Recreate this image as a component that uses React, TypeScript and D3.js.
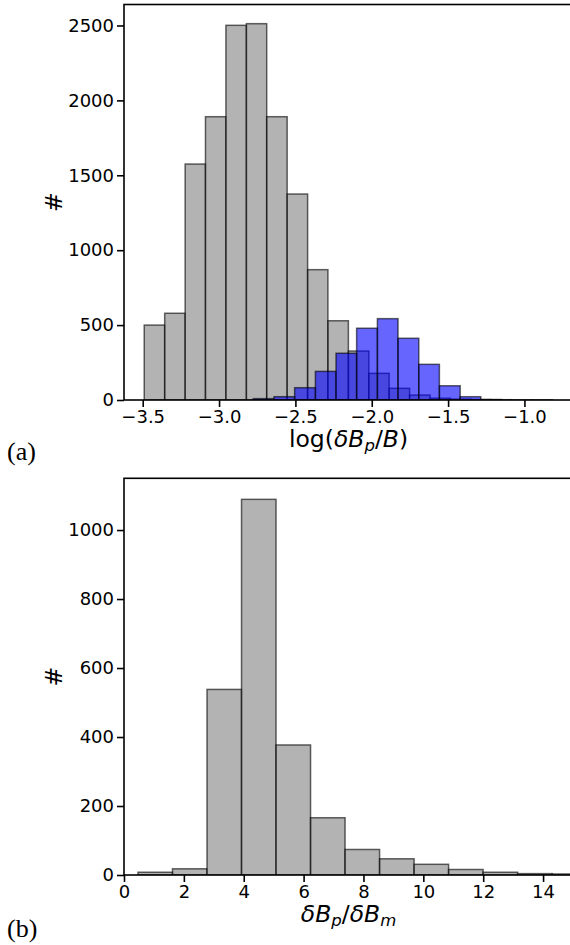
import React, { useEffect, useRef } from "react";
import * as d3 from "d3";

// panel (a): log(dBp/B), gray = all, blue = subset
const grayEdges = [-3.490, -3.356, -3.222, -3.089, -2.955, -2.821, -2.688, -2.554, -2.420, -2.287, -2.153,
  -2.019, -1.886, -1.752, -1.618, -1.485, -1.351, -1.217, -1.084, -0.950, -0.816];
const grayCounts = [500, 579, 1575, 1891, 2501, 2512, 1891, 1375, 870, 529, 327, 178, 78, 33, 12, 6, 3, 2, 1, 1];

const blueEdges = [-2.776, -2.640, -2.505, -2.369, -2.234, -2.099, -1.963, -1.828, -1.692, -1.557, -1.421, -1.286, -1.150];
const blueCounts = [9, 22, 82, 191, 312, 479, 543, 412, 238, 95, 22, 3];

const xTicksA = [-3.5, -3.0, -2.5, -2.0, -1.5, -1.0];
const yTicksA = [0, 500, 1000, 1500, 2000, 2500];

// panel (b): dBp/dBm
const ratioEdges = [0.467, 1.620, 2.773, 3.926, 5.079, 6.232, 7.385, 8.538, 9.691, 10.844, 11.997, 13.150, 14.303, 15.456];
const ratioCounts = [8, 18, 538, 1089, 377, 166, 74, 47, 31, 16, 8, 4, 3];

const xTicksB = [0, 2, 4, 6, 8, 10, 12, 14];
const yTicksB = [0, 200, 400, 600, 800, 1000];

const W = 570, H = 945;
const tickFont = "DejaVu Sans";

const toBins = (edges: number[], counts: number[]) =>
  counts.map((c, i) => ({ x0: edges[i], x1: edges[i + 1], n: c }));

const App = () => {
  const svgRef = useRef<SVGSVGElement>(null);

  useEffect(() => {
    const svg = d3.select(svgRef.current);
    svg.selectAll("*").remove();

    const drawPanel = (
      id: string,
      box: { left: number; right: number; top: number; bottom: number },
      xDomain: [number, number],
      yDomain: [number, number],
      series: { bins: { x0: number; x1: number; n: number }[]; color: string }[],
      xTicks: number[],
      yTicks: number[],
      xFmt: (d: number) => string,
      xLabel: (t: any) => void,
      panelTag: string,
      tagY: number
    ) => {
      const x = d3.scaleLinear().domain(xDomain).range([box.left, box.right]);
      const y = d3.scaleLinear().domain(yDomain).range([box.bottom, box.top]);

      svg.append("clipPath").attr("id", id)
        .append("rect")
        .attr("x", box.left).attr("y", box.top)
        .attr("width", box.right - box.left).attr("height", box.bottom - box.top);

      const g = svg.append("g").attr("clip-path", `url(#${id})`);
      series.forEach((s) => {
        g.append("g")
          .selectAll("rect")
          .data(s.bins)
          .join("rect")
          .attr("x", (d) => x(d.x0))
          .attr("y", (d) => y(d.n))
          .attr("width", (d) => x(d.x1) - x(d.x0))
          .attr("height", (d) => y(0) - y(d.n))
          .attr("fill", s.color)
          .attr("fill-opacity", 0.6)
          .attr("stroke", "black")
          .attr("stroke-opacity", 0.6)
          .attr("stroke-width", 1.5);
      });

      // frame
      svg.append("rect")
        .attr("x", box.left).attr("y", box.top)
        .attr("width", box.right - box.left).attr("height", box.bottom - box.top)
        .attr("fill", "none").attr("stroke", "black").attr("stroke-width", 1.6);

      const xAxis = svg.append("g")
        .attr("transform", `translate(0,${box.bottom})`)
        .call(d3.axisBottom(x).tickValues(xTicks).tickFormat(xFmt as any).tickSize(7).tickPadding(3));
      const yAxis = svg.append("g")
        .attr("transform", `translate(${box.left},0)`)
        .call(d3.axisLeft(y).tickValues(yTicks).tickFormat(d3.format("d") as any).tickSize(7).tickPadding(3));

      [xAxis, yAxis].forEach((a) => {
        a.select(".domain").remove();
        a.selectAll("line").attr("stroke", "black").attr("stroke-width", 1.6);
        a.selectAll("text")
          .attr("fill", "black")
          .attr("font-family", tickFont)
          .attr("font-size", 18);
      });

      // x label
      const xl = svg.append("text")
        .attr("x", (box.left + box.right) / 2)
        .attr("y", box.bottom + 47)
        .attr("text-anchor", "middle")
        .attr("font-family", tickFont)
        .attr("font-size", 23.5);
      xLabel(xl);

      // y label
      svg.append("text")
        .attr("transform", `translate(62,${(box.top + box.bottom) / 2}) rotate(-90)`)
        .attr("text-anchor", "middle")
        .attr("font-family", tickFont)
        .attr("font-size", 23.5)
        .text("#");

      svg.append("text")
        .attr("x", 7)
        .attr("y", tagY)
        .attr("font-family", "Liberation Serif")
        .attr("font-size", 26)
        .text(panelTag);
    };

    const fmt1 = d3.format(".1f");

    drawPanel(
      "clipA",
      { left: 124, right: 573, top: 4.5, bottom: 400 },
      [-3.6225, -0.682],
      [0, 2640],
      [
        { bins: toBins(grayEdges, grayCounts), color: "gray" },
        { bins: toBins(blueEdges, blueCounts), color: "blue" },
      ],
      xTicksA,
      yTicksA,
      (d) => fmt1(d),
      (t) => {
        t.append("tspan").text("log(");
        t.append("tspan").attr("font-style", "italic").text("δB");
        t.append("tspan").attr("font-style", "italic").attr("font-size", 16.5).attr("dy", 4).text("p");
        t.append("tspan").attr("dy", -4).text("/");
        t.append("tspan").attr("font-style", "italic").text("B");
        t.append("tspan").text(")");
      },
      "(a)",
      460
    );

    drawPanel(
      "clipB",
      { left: 124, right: 573, top: 478.3, bottom: 875 },
      [0, 15],
      [0, 1150],
      [{ bins: toBins(ratioEdges, ratioCounts), color: "gray" }],
      xTicksB,
      yTicksB,
      (d) => d3.format("d")(d),
      (t) => {
        t.append("tspan").attr("font-style", "italic").text("δB");
        t.append("tspan").attr("font-style", "italic").attr("font-size", 16.5).attr("dy", 4).text("p");
        t.append("tspan").attr("dy", -4).text("/");
        t.append("tspan").attr("font-style", "italic").text("δB");
        t.append("tspan").attr("font-style", "italic").attr("font-size", 16.5).attr("dy", 4).text("m");
      },
      "(b)",
      937
    );
  }, []);

  return (
    <svg
      ref={svgRef}
      width={W}
      height={H}
      style={{ position: "absolute", left: 0, top: 0, background: "white" }}
    />
  );
};

export default App;
